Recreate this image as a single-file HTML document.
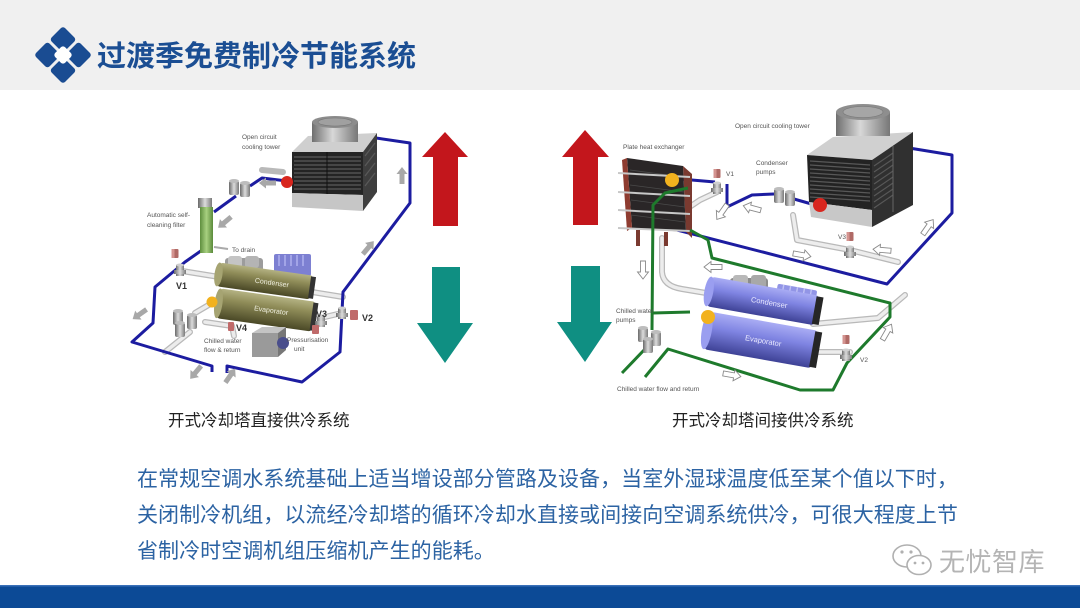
<!DOCTYPE html>
<html><head><meta charset="utf-8">
<style>
html,body{margin:0;padding:0;background:#fff;}
svg{display:block;}
text{font-family:"Liberation Sans","Noto Sans CJK SC",sans-serif;}
.lbl{font-size:6.5px;fill:#555;}
</style></head><body>
<svg width="1080" height="608" viewBox="0 0 1080 608" xmlns="http://www.w3.org/2000/svg">
<defs>
 <linearGradient id="olive" x1="0" y1="0" x2="0" y2="1">
  <stop offset="0" stop-color="#b4b283"/><stop offset="0.35" stop-color="#8f8c58"/><stop offset="1" stop-color="#4a4826"/>
 </linearGradient>
 <linearGradient id="purp" x1="0" y1="0" x2="0" y2="1">
  <stop offset="0" stop-color="#a9acf4"/><stop offset="0.4" stop-color="#7f84e2"/><stop offset="1" stop-color="#3e4296"/>
 </linearGradient>
 <linearGradient id="cyl" x1="0" y1="0" x2="1" y2="0">
  <stop offset="0" stop-color="#6e6e6e"/><stop offset="0.45" stop-color="#d8d8d8"/><stop offset="1" stop-color="#777"/>
 </linearGradient>
 <linearGradient id="valve" x1="0" y1="0" x2="1" y2="0">
  <stop offset="0" stop-color="#6a6a6a"/><stop offset="0.5" stop-color="#dcdcdc"/><stop offset="1" stop-color="#7a7a7a"/>
 </linearGradient>
 <linearGradient id="filt" x1="0" y1="0" x2="1" y2="0">
  <stop offset="0" stop-color="#5e8e3e"/><stop offset="0.5" stop-color="#a8d080"/><stop offset="1" stop-color="#5a8a3a"/>
 </linearGradient>
 <g id="ga"><polygon points="-8,-2.5 2,-2.5 2,-5.5 9,0 2,5.5 2,2.5 -8,2.5" fill="#a8a8a8"/></g>
 <g id="wa"><polygon points="-9,-2.5 2,-2.5 2,-5.5 9,0 2,5.5 2,2.5 -9,2.5" fill="#fff" stroke="#8a8a8a" stroke-width="0.9"/></g>
 <g id="vlv">
  <rect x="-4" y="-5" width="8" height="11" fill="url(#valve)"/>
  <ellipse cx="0" cy="-5" rx="4" ry="1.5" fill="#cfcfcf"/>
  <rect x="-6" y="0" width="12" height="4" fill="url(#valve)"/>
 </g>
 <g id="act"><rect x="-3.5" y="-13" width="7" height="9" rx="1" fill="#b06a66"/><rect x="-3.5" y="-13" width="3" height="9" fill="#d49490"/></g>
 <g id="pump">
  <rect x="-5" y="-7" width="10" height="14" rx="2" fill="url(#valve)"/>
  <ellipse cx="0" cy="-7" rx="5" ry="2" fill="#bdbdbd"/>
 </g>
</defs>

<!-- header -->
<rect x="0" y="0" width="1080" height="90" fill="#f0f0f0"/>
<g transform="rotate(45 63 55)">
 <rect x="42.5" y="34.5" width="19" height="19" rx="3" fill="#1a4c92"/>
 <rect x="64.5" y="34.5" width="19" height="19" rx="3" fill="#1a4c92"/>
 <rect x="42.5" y="56.5" width="19" height="19" rx="3" fill="#1a4c92"/>
 <rect x="64.5" y="56.5" width="19" height="19" rx="3" fill="#1a4c92"/>
 <rect x="56" y="48" width="14" height="14" rx="3" fill="#ffffff"/>
</g>
<text x="97" y="66" font-size="29" font-weight="bold" fill="#1b4e93">过渡季免费制冷节能系统</text>

<!-- ================= LEFT DIAGRAM ================= -->
<g fill="none" stroke-linecap="round" stroke-linejoin="round">
 <g stroke="#b9b9b9" stroke-width="6">
  <path d="M182,271 L343,297"/>
  <path d="M212,303 L195,313"/>
  <path d="M190,332 L165,352"/>
  <path d="M205,322 L232,326 L234,336"/>
  <path d="M312,320 L342,313"/>
  <path d="M283,172 L262,170"/>
 </g>
 <g stroke="#ececec" stroke-width="3.5">
  <path d="M182,271 L343,297"/>
  <path d="M212,303 L195,313"/>
  <path d="M190,332 L165,352"/>
  <path d="M205,322 L232,326 L234,336"/>
  <path d="M312,320 L342,313"/>
 </g>
</g>
<g fill="none" stroke="#1c1ca0" stroke-width="3" stroke-linejoin="round">
 <path d="M287,181 L262,178 L250,186"/>
 <path d="M236,196 L214,212"/>
 <path d="M205,248 L185,262 L155,287 L153,323 L132,342 L212,366 L212,372"/>
 <path d="M227,373 L227,366 L302,382 L340,352 L343,292 L410,203 L410,143 L376,138"/>
</g>
<!-- cooling tower left -->
<polygon points="292,152 308,136 377,133 363,152" fill="#cfcfcf"/>
<polygon points="363,152 377,133 377,192 363,211" fill="#3e3e3e"/>
<polygon points="292,152 363,152 363,195 292,193" fill="#242424"/>
<g stroke="#5a5a5a" stroke-width="1.2">
 <line x1="294" y1="157" x2="361" y2="157"/><line x1="294" y1="161" x2="361" y2="161"/>
 <line x1="294" y1="165" x2="361" y2="165"/><line x1="294" y1="169" x2="361" y2="169"/>
 <line x1="294" y1="173" x2="361" y2="173"/><line x1="294" y1="177" x2="361" y2="177"/>
 <line x1="294" y1="181" x2="361" y2="181"/><line x1="294" y1="185" x2="361" y2="185"/>
 <line x1="294" y1="189" x2="361" y2="189"/>
 <line x1="365" y1="156" x2="375" y2="143"/><line x1="365" y1="166" x2="375" y2="153"/>
 <line x1="365" y1="176" x2="375" y2="163"/><line x1="365" y1="186" x2="375" y2="173"/>
</g>
<line x1="327" y1="152" x2="327" y2="194" stroke="#111" stroke-width="1"/>
<polygon points="292,193 363,195 363,211 292,207" fill="#c6c6c6"/>
<rect x="312" y="122" width="46" height="20" fill="url(#cyl)"/>
<ellipse cx="335" cy="122" rx="23" ry="6" fill="#8c8c8c"/>
<ellipse cx="335" cy="122" rx="17" ry="4" fill="#a0a0a0" stroke="#777" stroke-width="0.6"/>
<circle cx="287" cy="182" r="6" fill="#d8261e"/>
<text class="lbl" x="242" y="139">Open circuit</text>
<text class="lbl" x="242" y="149">cooling tower</text>
<use href="#pump" transform="translate(234,188)"/>
<use href="#pump" transform="translate(245,190)"/>
<!-- filter -->
<rect x="198" y="198" width="14" height="10" fill="url(#valve)"/>
<rect x="200" y="207" width="13" height="46" fill="url(#filt)"/>
<text class="lbl" x="147" y="217">Automatic self-</text>
<text class="lbl" x="147" y="227">cleaning filter</text>
<line x1="214" y1="247" x2="228" y2="249" stroke="#aaa" stroke-width="2"/>
<text class="lbl" x="232" y="252">To drain</text>
<!-- V1 -->
<use href="#act" transform="translate(175,262)"/>
<use href="#vlv" transform="translate(180,270)"/>
<text x="176" y="289" font-size="9" font-weight="bold" fill="#333">V1</text>
<!-- chiller left -->
<rect x="225" y="258" width="38" height="14" rx="3" fill="#9c9c9c"/>
<rect x="228" y="256" width="14" height="12" rx="3" fill="#c4c4c4"/>
<rect x="245" y="256" width="14" height="12" rx="3" fill="#b4b4b4"/>
<rect x="274" y="254" width="37" height="22" rx="2" fill="#7d80d2"/>
<g stroke="#b2b4f0" stroke-width="1.4">
 <line x1="279" y1="255" x2="279" y2="266"/><line x1="285" y1="255" x2="285" y2="266"/>
 <line x1="291" y1="255" x2="291" y2="266"/><line x1="297" y1="255" x2="297" y2="266"/>
 <line x1="303" y1="255" x2="303" y2="266"/>
</g>
<g transform="translate(265,281) rotate(8)">
 <rect x="-47" y="-12" width="94" height="24" rx="3" fill="url(#olive)"/>
 <ellipse cx="-47" cy="0" rx="4" ry="12" fill="#a6a472"/>
 <rect x="45" y="-11" width="5" height="22" fill="#333"/>
 <text x="-10" y="3" font-size="7" fill="#f0f0e0">Condenser</text>
</g>
<g transform="translate(266,310) rotate(8)">
 <rect x="-48" y="-15" width="96" height="30" rx="3" fill="url(#olive)"/>
 <ellipse cx="-48" cy="0" rx="4" ry="15" fill="#a6a472"/>
 <rect x="46" y="-14" width="5" height="28" fill="#333"/>
 <text x="-12" y="2" font-size="7" fill="#f0f0e0">Evaporator</text>
</g>
<circle cx="212" cy="302" r="5.5" fill="#f2b21e"/>
<use href="#vlv" transform="translate(321,321)"/>
<rect x="312" y="325" width="7" height="9" rx="1" fill="#c06a6a"/>
<text x="316" y="317" font-size="9" font-weight="bold" fill="#333">V3</text>
<use href="#vlv" transform="translate(342,313)"/>
<rect x="350" y="310" width="8" height="10" rx="1" fill="#c06a6a"/>
<text x="362" y="321" font-size="9" font-weight="bold" fill="#333">V2</text>
<rect x="228" y="322" width="6" height="9" rx="1" fill="#c06a6a"/>
<text x="236" y="331" font-size="9" font-weight="bold" fill="#333">V4</text>
<use href="#pump" transform="translate(178,318)"/>
<use href="#pump" transform="translate(192,322)"/>
<use href="#pump" transform="translate(180,330)"/>
<rect x="252" y="333" width="26" height="24" fill="#9a9a9a"/>
<polygon points="252,333 262,327 286,327 278,333" fill="#c4c4c4"/>
<polygon points="278,333 286,327 286,350 278,357" fill="#777"/>
<circle cx="283" cy="343" r="6" fill="#4a4e8c"/>
<text class="lbl" x="204" y="343">Chilled water</text>
<text class="lbl" x="204" y="352">flow &amp; return</text>
<text class="lbl" x="287" y="342">Pressurisation</text>
<text class="lbl" x="294" y="351">unit</text>
<use href="#ga" transform="translate(402,176) rotate(-90)"/>
<use href="#ga" transform="translate(368,248) rotate(-50)"/>
<use href="#ga" transform="translate(268,183) rotate(180)"/>
<use href="#ga" transform="translate(225,222) rotate(140)"/>
<use href="#ga" transform="translate(140,314) rotate(145)"/>
<use href="#ga" transform="translate(196,372) rotate(130)"/>
<use href="#ga" transform="translate(230,376) rotate(-55)"/>

<!-- ================= ARROWS ================= -->
<polygon points="445,132 468,157 458,157 458,226 433,226 433,157 422,157" fill="#c3161c"/>
<polygon points="585,130 609,157 598,157 598,225 573,225 573,157 562,157" fill="#c3161c"/>
<polygon points="432,267 460,267 460,323 473,323 445,363 417,323 432,323" fill="#0f8f82"/>
<polygon points="571,266 600,266 600,322 612,322 585,362 557,322 571,322" fill="#0f8f82"/>

<!-- ================= RIGHT DIAGRAM ================= -->
<g fill="none" stroke-linecap="round" stroke-linejoin="round">
 <g stroke="#b9b9b9" stroke-width="6">
  <path d="M662,238 L662,272 Q663,286 682,289 L712,294"/>
  <path d="M813,324 L878,318 L905,295"/>
  <path d="M793,215 L797,240 L850,250 L898,262"/>
  <path d="M717,192 L700,200 L688,208"/>
  <path d="M813,352 L850,352"/>
 </g>
 <g stroke="#ededed" stroke-width="3.5">
  <path d="M662,238 L662,272 Q663,286 682,289 L712,294"/>
  <path d="M813,324 L878,318 L905,295"/>
  <path d="M793,215 L797,240 L850,250 L898,262"/>
  <path d="M717,192 L700,200 L688,208"/>
  <path d="M813,352 L850,352"/>
 </g>
</g>
<g fill="none" stroke="#1c1ca0" stroke-width="3" stroke-linejoin="round">
 <path d="M903,147 L952,155 L952,213 L887,284 L677,230"/>
 <path d="M680,179 L715,182"/>
 <path d="M727,184 L727,207 L752,195 L774,194"/>
 <path d="M794,199 L815,205"/>
</g>
<!-- cooling tower right -->
<polygon points="807,155 833,137 913,132 872,160" fill="#d0d0d0"/>
<polygon points="872,160 913,132 913,205 872,227" fill="#303030"/>
<polygon points="807,155 872,160 872,210 809,202" fill="#232323"/>
<g stroke="#585858" stroke-width="1.2">
 <line x1="810" y1="161" x2="870" y2="165"/><line x1="810" y1="165" x2="870" y2="169"/>
 <line x1="810" y1="169" x2="870" y2="173"/><line x1="810" y1="173" x2="870" y2="177"/>
 <line x1="810" y1="177" x2="870" y2="181"/><line x1="810" y1="181" x2="870" y2="185"/>
 <line x1="810" y1="185" x2="870" y2="189"/><line x1="810" y1="189" x2="870" y2="193"/>
 <line x1="810" y1="193" x2="870" y2="197"/><line x1="810" y1="197" x2="870" y2="201"/>
 <line x1="874" y1="166" x2="893" y2="153"/><line x1="874" y1="172" x2="893" y2="159"/>
 <line x1="874" y1="178" x2="893" y2="165"/><line x1="874" y1="184" x2="893" y2="171"/>
 <line x1="874" y1="190" x2="893" y2="177"/><line x1="874" y1="196" x2="893" y2="183"/>
 <line x1="874" y1="202" x2="893" y2="189"/><line x1="874" y1="208" x2="893" y2="195"/>
</g>
<line x1="893" y1="146" x2="893" y2="212" stroke="#666" stroke-width="1"/>
<polygon points="809,202 872,210 872,227 811,217" fill="#c8c8c8"/>
<rect x="836" y="112" width="54" height="24" fill="url(#cyl)"/>
<ellipse cx="863" cy="112" rx="27" ry="8" fill="#8e8e8e"/>
<ellipse cx="863" cy="112" rx="20" ry="5.5" fill="#a6a6a6" stroke="#777" stroke-width="0.6"/>
<circle cx="820" cy="205" r="7" fill="#d8261e"/>
<text class="lbl" x="735" y="128">Open circuit cooling tower</text>
<!-- PHE -->
<polygon points="683,166 692,174 692,238 686,232" fill="#7a3a30"/>
<polygon points="627,158 683,166 686,232 632,228" fill="#2a2627"/>
<polygon points="622,160 627,158 632,228 627,231" fill="#8e3c30"/>
<g stroke="#4a4a4a" stroke-width="0.8">
 <line x1="630" y1="170" x2="683" y2="177"/><line x1="630" y1="185" x2="684" y2="192"/>
 <line x1="631" y1="200" x2="685" y2="207"/><line x1="631" y1="215" x2="685" y2="222"/>
</g>
<g stroke="#c8c8c8" stroke-width="2">
 <line x1="618" y1="173" x2="690" y2="177"/><line x1="618" y1="192" x2="690" y2="196"/>
 <line x1="618" y1="210" x2="690" y2="214"/><line x1="618" y1="228" x2="690" y2="231"/>
</g>
<rect x="636" y="230" width="4" height="16" fill="#7a3a30"/>
<rect x="664" y="232" width="4" height="14" fill="#7a3a30"/>
<circle cx="672" cy="180" r="7" fill="#f2b21e"/>
<text class="lbl" x="623" y="149">Plate heat exchanger</text>
<g fill="none" stroke="#1e7a2c" stroke-width="3" stroke-linejoin="round">
 <path d="M688,188 L665,193 L653,205 L652,330"/>
 <path d="M646,348 L622,373"/>
 <path d="M690,230 L708,240 L712,258 L890,303 L890,317 L847,363 L833,390 L800,390 L668,349 L645,377"/>
 <path d="M653,313 L690,312"/>
</g>
<!-- chiller right -->
<rect x="730" y="278" width="38" height="18" rx="3" fill="#8c8c8c"/>
<rect x="733" y="275" width="15" height="13" rx="3" fill="#b8b8b8"/>
<rect x="751" y="275" width="15" height="13" rx="3" fill="#a8a8a8"/>
<g transform="translate(796,296) rotate(10)">
 <rect x="-20" y="-9" width="40" height="17" rx="2" fill="#9295e6"/>
 <g stroke="#c0c2f4" stroke-width="1.4">
  <line x1="-14" y1="-9" x2="-14" y2="0"/><line x1="-7" y1="-9" x2="-7" y2="0"/>
  <line x1="0" y1="-9" x2="0" y2="0"/><line x1="7" y1="-9" x2="7" y2="0"/><line x1="14" y1="-9" x2="14" y2="0"/>
 </g>
</g>
<g transform="translate(763,301) rotate(10)">
 <rect x="-55" y="-15" width="110" height="30" rx="4" fill="url(#purp)"/>
 <ellipse cx="-55" cy="0" rx="4.5" ry="15" fill="#9a9ef0"/>
 <rect x="52" y="-14" width="7" height="28" fill="#262626"/>
 <text x="-12" y="3" font-size="7.5" fill="#e8e8ff">Condenser</text>
</g>
<g transform="translate(761,340) rotate(10)">
 <rect x="-55" y="-19" width="110" height="38" rx="4" fill="url(#purp)"/>
 <ellipse cx="-55" cy="0" rx="5" ry="19" fill="#9a9ef0"/>
 <rect x="52" y="-18" width="7" height="36" fill="#262626"/>
 <text x="-16" y="3" font-size="7.5" fill="#e8e8ff">Evaporator</text>
</g>
<circle cx="708" cy="317" r="7" fill="#f2b21e"/>
<use href="#act" transform="translate(717,182)"/>
<use href="#vlv" transform="translate(717,188)"/>
<text class="lbl" x="726" y="176" font-size="7">V1</text>
<use href="#pump" transform="translate(779,196)"/>
<use href="#pump" transform="translate(790,199)"/>
<text class="lbl" x="756" y="165">Condenser</text>
<text class="lbl" x="756" y="174">pumps</text>
<use href="#act" transform="translate(850,245)"/>
<use href="#vlv" transform="translate(850,252)"/>
<text class="lbl" x="838" y="239">V3</text>
<use href="#act" transform="translate(846,348)"/>
<use href="#vlv" transform="translate(846,355)"/>
<text class="lbl" x="860" y="362">V2</text>
<use href="#pump" transform="translate(643,335)"/>
<use href="#pump" transform="translate(656,339)"/>
<use href="#pump" transform="translate(648,346)"/>
<text class="lbl" x="616" y="313">Chilled water</text>
<text class="lbl" x="616" y="322">pumps</text>
<text class="lbl" x="617" y="391">Chilled water flow and return</text>
<use href="#wa" transform="translate(713,267) rotate(180)"/>
<use href="#wa" transform="translate(752,208) rotate(195)"/>
<use href="#wa" transform="translate(722,212) rotate(125)"/>
<use href="#wa" transform="translate(802,255) rotate(10)"/>
<use href="#wa" transform="translate(882,250) rotate(185)"/>
<use href="#wa" transform="translate(643,270) rotate(90)"/>
<use href="#wa" transform="translate(887,332) rotate(-60)"/>
<use href="#wa" transform="translate(732,375) rotate(10)"/>
<use href="#wa" transform="translate(928,227) rotate(-55)"/>

<!-- captions -->
<text x="168" y="426" font-size="16.5" fill="#222">开式冷却塔直接供冷系统</text>
<text x="672" y="426" font-size="16.5" fill="#222">开式冷却塔间接供冷系统</text>

<!-- body text -->
<text x="137" y="486" font-size="21" fill="#2c63a3" letter-spacing="0.05">在常规空调水系统基础上适当增设部分管路及设备，当室外湿球温度低至某个值以下时，</text>
<text x="137" y="522" font-size="21" fill="#2c63a3" letter-spacing="0.05">关闭制冷机组，以流经冷却塔的循环冷却水直接或间接向空调系统供冷，可很大程度上节</text>
<text x="137" y="558" font-size="21" fill="#2c63a3" letter-spacing="0.05">省制冷时空调机组压缩机产生的能耗。</text>

<!-- watermark -->
<g fill="#fff" stroke="#b0b0b0" stroke-width="1.6">
 <ellipse cx="907" cy="556" rx="14" ry="11"/>
 <ellipse cx="919" cy="565" rx="12" ry="9.5"/>
</g>
<g fill="#b0b0b0">
 <circle cx="902" cy="552" r="1.6"/><circle cx="911" cy="552" r="1.6"/>
 <circle cx="915" cy="563" r="1.4"/><circle cx="923" cy="563" r="1.4"/>
</g>
<text x="939" y="571" font-size="26" fill="#b4b4b4" letter-spacing="0.5">无忧智库</text>

<!-- bottom bar -->
<rect x="0" y="585" width="1080" height="23" fill="#0c4a96"/>
<rect x="0" y="585" width="1080" height="1.5" fill="#3a70b8"/>
</svg>
</body></html>
